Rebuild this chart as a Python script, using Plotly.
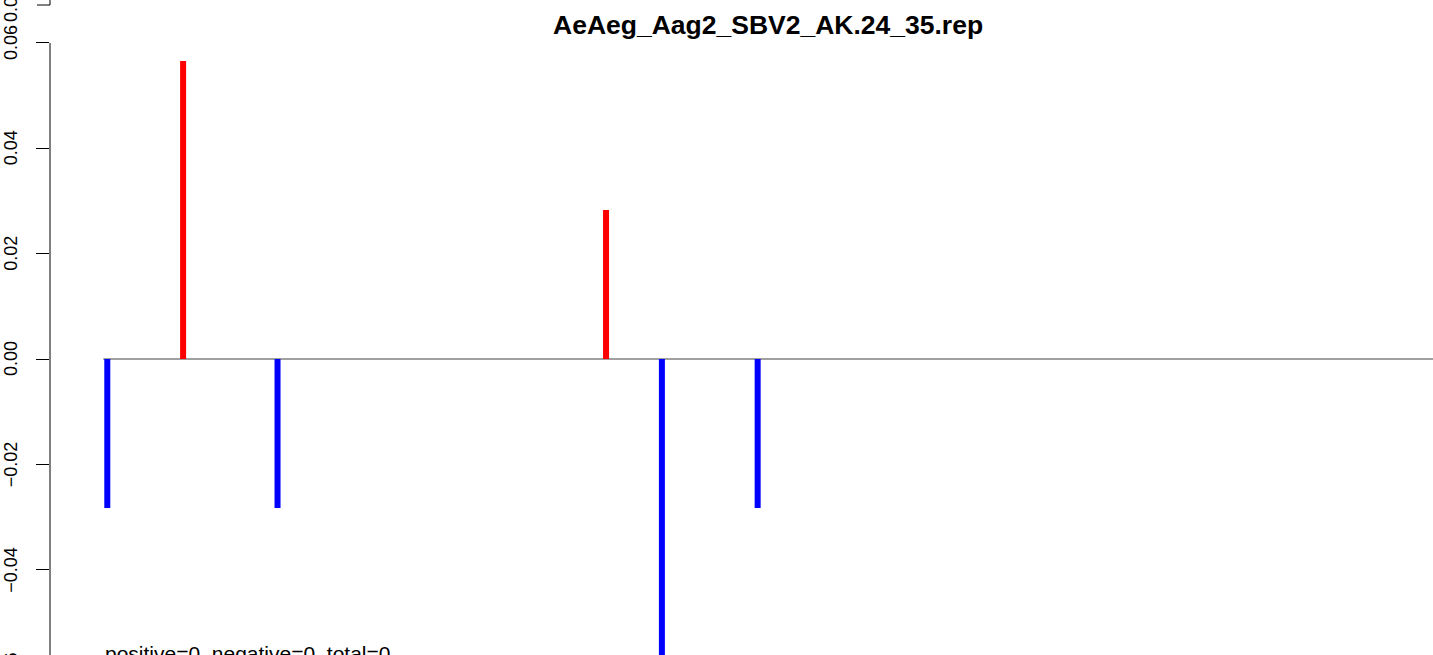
import plotly.graph_objects as go

# ---------------- data ----------------
title = "AeAeg_Aag2_SBV2_AK.24_35.rep"
positions = [3, 60, 131, 378, 420, 492]
values = [-0.0283, 0.0566, -0.0283, 0.0283, -0.0566, -0.0283]
baseline_x = [0, 1000]
y_ticks = [-0.06, -0.04, -0.02, 0.00, 0.02, 0.04, 0.06]
y_tick_labels = ["\u22120.06", "\u22120.04", "\u22120.02", "0.00", "0.02", "0.04", "0.06"]
note = "positive=0, negative=0, total=0"
upper_label = "0.00"

# ---------------- layout geometry ----------------
W, H = 1433, 655
L = 50                      # left margin (y axis position)
PW = W - L
X_RANGE = [(L - 103.3) / 1.33, (W - 103.3) / 1.33]
K = 5267.0
Y_RANGE = [-(H - 359) / K, 359 / K]

def px_x(px):
    return (px - L) / PW

def px_y(py):
    return 1 - py / H

def val_y(v):
    return (v - Y_RANGE[0]) / (Y_RANGE[1] - Y_RANGE[0])

FONT = "Liberation Sans, Arial, Helvetica, sans-serif"

fig = go.Figure()

# zero line
fig.add_trace(go.Scatter(x=baseline_x, y=[0, 0], mode="lines",
                         line=dict(color="#808080", width=1.5),
                         hoverinfo="skip", showlegend=False))

def segs(cond):
    xs, ys = [], []
    for p, v in zip(positions, values):
        if cond(v):
            xs += [p, p, None]
            ys += [0, v, None]
    return xs, ys

px_, py_ = segs(lambda v: v > 0)
nx_, ny_ = segs(lambda v: v < 0)
fig.add_trace(go.Scatter(x=px_, y=py_, mode="lines",
                         line=dict(color="#FF0000", width=6),
                         showlegend=False))
fig.add_trace(go.Scatter(x=nx_, y=ny_, mode="lines",
                         line=dict(color="#0000FF", width=6),
                         showlegend=False))

annotations = []
for v, lab in zip(y_ticks, y_tick_labels):
    annotations.append(dict(text=lab, xref="paper", yref="paper",
                            x=px_x(11), y=val_y(v), xanchor="center",
                            yanchor="middle", textangle=-90, showarrow=False,
                            font=dict(family=FONT, size=18, color="black")))
# remnant label of the panel above
annotations.append(dict(text=upper_label, xref="paper", yref="paper",
                        x=px_x(11), y=px_y(5), xanchor="center",
                        yanchor="middle", textangle=-90, showarrow=False,
                        font=dict(family=FONT, size=18, color="black")))
# title
annotations.append(dict(text="<b>" + title + "</b>", xref="paper", yref="paper",
                        x=px_x(767.5), y=px_y(25), xanchor="center",
                        yanchor="middle", showarrow=False,
                        font=dict(family=FONT, size=26.5, color="black")))
# note
annotations.append(dict(text=note, xref="paper", yref="paper",
                        x=px_x(103.3), y=px_y(653), xanchor="left",
                        yanchor="middle", showarrow=False,
                        font=dict(family=FONT, size=21, color="black")))

shapes = [
    # y axis line from 0.06 downward
    dict(type="line", xref="paper", yref="paper", x0=0, x1=0,
         y0=val_y(0.06), y1=val_y(-0.06), line=dict(color="black", width=1)),
    # remnant of upper panel axis
    dict(type="line", xref="paper", yref="paper", x0=0, x1=0,
         y0=px_y(5), y1=px_y(-2), line=dict(color="black", width=1)),
    dict(type="line", xref="paper", yref="paper", x0=px_x(37), x1=0,
         y0=px_y(5), y1=px_y(5), line=dict(color="black", width=1)),
]

fig.update_layout(
    width=W, height=H,
    margin=dict(l=L, r=0, t=0, b=0),
    paper_bgcolor="white", plot_bgcolor="white",
    annotations=annotations, shapes=shapes,
    xaxis=dict(range=X_RANGE, visible=False, showgrid=False, zeroline=False),
    yaxis=dict(range=Y_RANGE, showgrid=False, zeroline=False, showline=False,
               ticks="outside", ticklen=13, tickwidth=1, tickcolor="black",
               tickvals=y_ticks, showticklabels=False),
    showlegend=False,
)

fig.write_html("out.html",
               config={"displayModeBar": False},
               post_script="document.body.style.margin='0';"
                           "document.body.style.padding='0';"
                           "document.body.style.overflow='hidden';")
